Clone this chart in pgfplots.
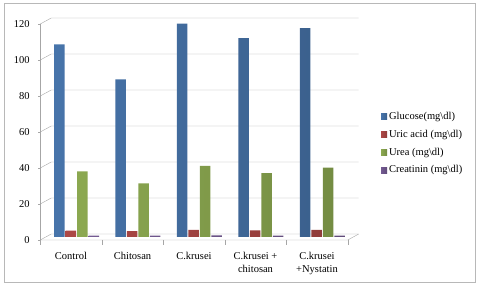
\documentclass[border=0pt]{standalone}
\usepackage{fontspec}
\setmainfont{Liberation Serif}
\usepackage{pgfplots}
\pgfplotsset{compat=1.18}
\definecolor{cglu}{HTML}{4F81BD}
\definecolor{curi}{HTML}{C0504D}
\definecolor{cure}{HTML}{9BBB59}
\definecolor{ccre}{HTML}{8064A2}
\definecolor{gridc}{HTML}{A6A6A6}
\begin{document}
\begin{tikzpicture}[x=1pt,y=1pt]
\path[use as bounding box] (0,0) rectangle (480,286);
\draw[gridc!80] (4.5,3.5) rectangle (475.5,282.5);
\begin{axis}[
  at={(76.5pt,49pt)}, anchor=origin,
  scale only axis, width=307.5pt, height=216pt,
  xmin=-0.5, xmax=4.5, ymin=0, ymax=120,
  clip=false,
  axis line style={draw=none},
  major tick length=0pt,
  ybar=1pt, bar width=10.5pt,
  xtick={0,1,2,3,4},
  xticklabels={Control,Chitosan,C.krusei,{C.krusei +\\chitosan},{C.krusei\\+Nystatin}},
  xticklabel style={align=center, xshift=-5.5pt, yshift=-12pt},
  ytick={0,20,...,120},
  yticklabel style={xshift=-12.5pt, yshift=-3pt},
  font=\fontsize{10.5}{12.6}\selectfont,
  /pgf/number format/assume math mode=true,
  legend style={at={(rel axis cs:1.09,0.59)}, anchor=north west, draw=none, fill=none,
    row sep=5.2pt, font=\fontsize{10.5}{12.6}\selectfont, inner sep=0pt},
  legend cell align=left,
  legend image code/.code={\fill[#1] (0pt,-3pt) rectangle (6pt,3pt);},
]
% 3D-style walls and grid
\pgfplotsinvokeforeach{0,20,40,60,80,100,120}{
  \draw[gridc] (axis cs:-0.5894,#1-1.667) -- (axis cs:-0.4106,#1+1.667) -- (axis cs:4.5894,#1+1.667);
  \draw[gridc] (axis cs:-0.5894,#1-1.667) -- ([xshift=-2.5pt]axis cs:-0.5894,#1-1.667);
}
\draw[gridc] (axis cs:-0.5894,-1.667) -- (axis cs:-0.5894,118.333);
\draw[gridc] (axis cs:-0.5894,-1.667) -- (axis cs:4.4106,-1.667) -- (axis cs:4.5894,1.667);
\pgfplotsinvokeforeach{-0.5894,0.4106,1.4106,2.4106,3.4106,4.4106}{
  \draw[gridc] (axis cs:#1,-1.667) -- ([yshift=-5pt]axis cs:#1,-1.667);
}
\addplot[draw=none, left color=cglu!90!black, middle color=cglu!60!white, right color=cglu!75!black]
  coordinates {(0,107) (1,87.5) (2,118.5) (3,110.5) (4,116)};
\addplot[draw=none, left color=curi!90!black, middle color=curi!60!white, right color=curi!75!black]
  coordinates {(0,3.6) (1,3.2) (2,3.9) (3,3.7) (4,3.9)};
\addplot[draw=none, left color=cure!90!black, middle color=cure!60!white, right color=cure!75!black]
  coordinates {(0,36.5) (1,29.8) (2,39.5) (3,35.5) (4,38.5)};
\addplot[draw=none, left color=ccre!90!black, middle color=ccre!60!white, right color=ccre!75!black]
  coordinates {(0,0.8) (1,0.7) (2,0.9) (3,0.8) (4,0.8)};
\legend{Glucose(mg\textbackslash dl),Uric acid (mg\textbackslash dl),Urea (mg\textbackslash dl),Creatinin (mg\textbackslash dl)}
\end{axis}
\end{tikzpicture}
\end{document}
